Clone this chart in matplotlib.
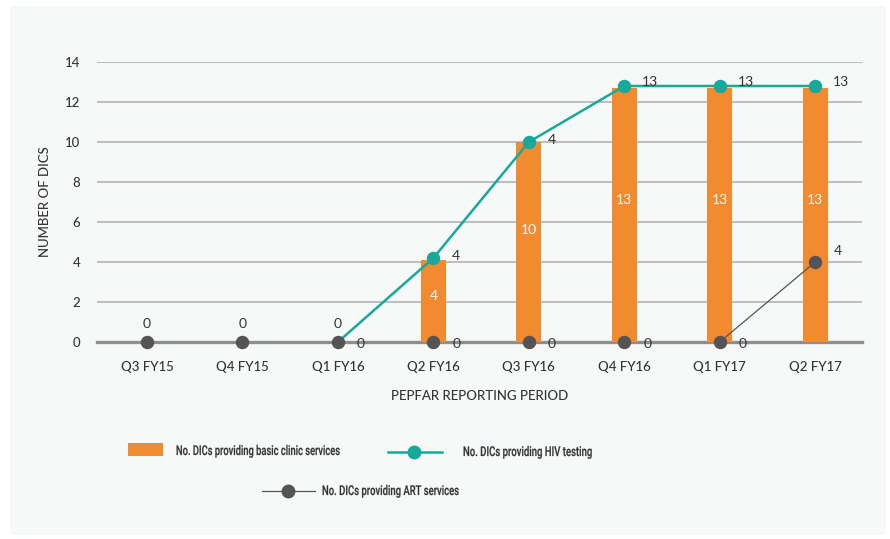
import matplotlib
matplotlib.use("Agg")
import matplotlib.pyplot as plt
import matplotlib.transforms as mtransforms
from matplotlib.patches import Rectangle, PathPatch
from matplotlib.lines import Line2D
from matplotlib.textpath import TextPath
from matplotlib.font_manager import FontProperties
import numpy as np

periods = ["Q3 FY15", "Q4 FY15", "Q1 FY16", "Q2 FY16", "Q3 FY16", "Q4 FY16", "Q1 FY17", "Q2 FY17"]
clinic = [0, 0, 0, 4.1, 10, 12.7, 12.7, 12.7]
clinic_labels = ["", "", "", "4", "10", "13", "13", "13"]
hiv = [None, None, 0, 4.2, 10, 12.8, 12.8, 12.8]
hiv_labels = ["0", "0", "0", "4", "4", "13", "13", "13"]
art = [0, 0, 0, 0, 0, 0, 0, 4]
art_labels = ["", "", "0", "0", "0", "0", "0", "4"]
yticks = [0, 2, 4, 6, 8, 10, 12, 14]
legend_names = ["No. DICs providing basic clinic services",
                "No. DICs providing HIV testing",
                "No. DICs providing ART services"]

ORANGE = "#f28a30"
TEAL = "#17a99a"
DARK = "#545457"
TXT = "#333333"

plt.rcParams["font.family"] = ["Lato", "DejaVu Sans"]

W, H = 890, 539
fig = plt.figure(figsize=(W / 100, H / 100), dpi=100)
fig.patches.append(Rectangle((10 / W, 4 / H), 876 / W, 529 / H, transform=fig.transFigure,
                             facecolor="#f7f8f8", edgecolor="none", zorder=-5))

ax = fig.add_axes([97 / W, (H - 342) / H, (862 - 97) / W, (342 - 62) / H])
ax.set_facecolor("none")
x = np.arange(len(periods))

for y in yticks[1:]:
    ax.axhline(y, color="#adadad", lw=1.1, zorder=1)
ax.axhline(0, color="#8e8e8e", lw=2.4, zorder=1, clip_on=False)

ax.bar(x, clinic, width=0.26, color=ORANGE, zorder=2)
for i, (v, t) in enumerate(zip(clinic, clinic_labels)):
    if t:
        ax.text(i, v * 0.56, t, color="white", ha="center", va="center", fontsize=10)

hx = [i for i, v in enumerate(hiv) if v is not None]
hy = [v for v in hiv if v is not None]
ax.plot(hx, hy, color=TEAL, lw=1.8, zorder=3)
ax.scatter(hx[1:], hy[1:], s=75, color=TEAL, zorder=4, clip_on=False)

ax.plot(x[-2:], art[-2:], color=DARK, lw=0.9, zorder=3)
ax.scatter(x, art, s=75, color=DARK, zorder=5, clip_on=False)

for i, t in enumerate(hiv_labels):
    if hiv[i] is None or hiv[i] == 0:
        ax.text(i, 0.9, t, color=TXT, ha="center", va="center", fontsize=10)
    elif hiv[i] > 12:
        ax.text(i + 0.27, hiv[i] + 0.2, t, color=TXT, ha="center", va="center", fontsize=10)
    else:
        ax.text(i + 0.24, hiv[i] + 0.1, t, color=TXT, ha="center", va="center", fontsize=10)
for i, t in enumerate(art_labels):
    if t:
        ax.text(i + 0.24, art[i] + (0.55 if art[i] else -0.08), t, color=TXT,
                ha="center", va="center", fontsize=10)

ax.set_xlim(-0.524, 7.49)
ax.set_ylim(0, 14)
ax.set_xticks(x)
ax.set_xticklabels(periods, fontsize=9.5, color=TXT, fontweight="medium")
ax.set_yticks(yticks)
ax.set_yticklabels([str(v) for v in yticks], fontsize=9.5, color=TXT, fontweight="medium")
ax.tick_params(length=0)
ax.tick_params(axis="x", pad=14)
ax.tick_params(axis="y", pad=12)
for s in ax.spines.values():
    s.set_visible(False)
ax.set_xlabel("PEPFAR REPORTING PERIOD", fontsize=9.5, color=TXT, labelpad=12, fontweight="medium")
ax.set_ylabel("NUMBER OF DICS", fontsize=9.5, color=TXT, labelpad=10, fontweight="medium")


# legend, drawn by hand in pixel coords (the original uses a condensed face)
def fx(px):
    return px / W


def fy(py):
    return (H - py) / H


leg_prop = FontProperties(family="Roboto", weight="medium")


def narrow_text(px, py, s, width):
    tp = TextPath((0, 0), s, size=13.5, prop=leg_prop)
    ext = tp.get_extents()
    sx = width / ext.width
    tr = mtransforms.Affine2D().scale(sx, 1).translate(px, H - py)
    fig.patches.append(PathPatch(tp, transform=tr, facecolor=TXT, edgecolor=TXT, lw=0.15))


fig.patches.append(Rectangle((fx(128), fy(456)), 35 / W, 13 / H, transform=fig.transFigure,
                             facecolor=ORANGE, edgecolor="none"))
narrow_text(176, 455, legend_names[0], 163)
fig.lines.append(Line2D([fx(388), fx(442)], [fy(452), fy(452)], transform=fig.transFigure,
                        color=TEAL, lw=1.8))
fig.lines.append(Line2D([fx(414)], [fy(452)], transform=fig.transFigure, color=TEAL,
                        marker="o", markersize=9, lw=0))
narrow_text(463, 456, legend_names[1], 128)
fig.lines.append(Line2D([fx(262), fx(315)], [fy(491), fy(491)], transform=fig.transFigure,
                        color=DARK, lw=0.9))
fig.lines.append(Line2D([fx(288)], [fy(491)], transform=fig.transFigure, color=DARK,
                        marker="o", markersize=9, lw=0))
narrow_text(322, 495, legend_names[2], 136)

fig.savefig("out.png", dpi=100)
